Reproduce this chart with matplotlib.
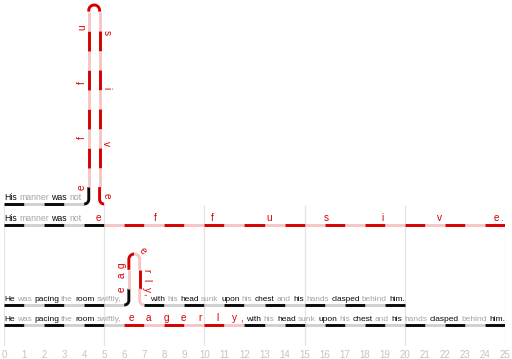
import numpy as np
import matplotlib
matplotlib.use("Agg")
import matplotlib.pyplot as plt

# sentence 1
s1_words = ["His", "manner", "was", "not"]
s1_letters = list("effusive")
s1_letter_s = [4.7, 7.54, 10.38, 13.22, 16.06, 18.9, 21.74, 24.58]
s1_loop_s = [5.0, 7.54, 10.38, 13.22, 16.06, 18.9, 21.74, 24.45]
s1_end = ".", 24.85

# sentence 2
s2_head = ["He", "was", "pacing", "the", "room", "swiftly,"]
s2_tail = ["with", "his", "head", "sunk", "upon", "his", "chest", "and",
           "his", "hands", "clasped", "behind", "him."]
s2_letters = list("eagerly")
s2_letter_s = [6.37, 7.22, 8.08, 8.93, 9.79, 10.64, 11.5]
s2_loop_s = [6.96, 7.71, 8.26, 9.23, 10.03, 10.53, 11.03]
s2_end = ",", 11.86
s2_loop_end = ",", 11.3

n_units = 25
ticks = list(range(0, 26))

PX = 501 / 25.0
BLACK, GRAY = "#0a0a0a", "#d0d0d0"
RED, PINK = "#d40000", "#f6c6c6"
WORDGRAY = "#a4a4a4"
R1, R2 = 0.23, 0.27
FONT = "Liberation Sans"

fig = plt.figure(figsize=(5.12, 3.59), dpi=100)
ax = fig.add_axes([4 / 512, 13 / 359, 501 / 512, 346 / 359])
ax.set_xlim(0, 25)
ax.set_ylim(346 / PX, 0)
renderer = fig.canvas.get_renderer()


def point(s, fold):
    # position (x, height) and tangent angle at arc length s
    if fold is None or s <= fold[0]:
        return s, 0.0, 0.0
    a, L, H = fold
    if s >= a + L:
        return s - L + 2 * (R1 + R2), 0.0, 0.0
    q1 = np.pi / 2 * R1
    v = H - R1 - R2
    q2 = np.pi * R2
    P = 2 * q1 + 2 * v + q2
    u = (s - a) * P / L
    if u < q1:
        p = u / R1
        return a + R1 * np.sin(p), R1 - R1 * np.cos(p), p
    if u < q1 + v:
        return a + R1, R1 + (u - q1), np.pi / 2
    if u < q1 + v + q2:
        p = (u - q1 - v) / R2
        cx, ch = a + R1 + R2, R1 + v
        return cx - R2 * np.cos(p), ch + R2 * np.sin(p), np.pi / 2 - p
    if u < q1 + 2 * v + q2:
        w = u - q1 - v - q2
        return a + R1 + 2 * R2, R1 + v - w, -np.pi / 2
    p = min((u - q1 - 2 * v - q2) / R1, np.pi / 2)
    cx = a + 2 * R1 + 2 * R2
    return cx - R1 * np.cos(p), R1 - R1 * np.sin(p), p - np.pi / 2


def draw_line(y0, fold, hl):
    for k in range(n_units):
        ss = np.linspace(k, k + 1, 40)
        pts = [point(s, fold) for s in ss]
        xs = [p[0] for p in pts]
        ys = [y0 - p[1] for p in pts]
        if hl[0] <= k < hl[1]:
            c = RED if k % 2 == 0 else PINK
        else:
            c = BLACK if k % 2 == 0 else GRAY
        ax.plot(xs, ys, color=c, lw=2.1, solid_capstyle="butt", zorder=2)


def draw_letters(y0, fold, letters, spos):
    for ch, s in zip(letters, spos):
        x, h, th = point(s, fold)
        off = 0.34
        lx = x - off * np.sin(th)
        lh = h + off * np.cos(th)
        ax.text(lx, y0 - lh, ch, color=RED, fontsize=7.2, ha="center", va="center",
                rotation=np.degrees(th), rotation_mode="anchor", family=FONT, zorder=3)


def fit_size(words, x0, x1):
    # font size at which the phrase fills its span
    t = ax.text(0, 0, " ".join(words), fontsize=10, family=FONT)
    w = t.get_window_extent(renderer).width / PX
    t.remove()
    return min(10 * (x1 - x0) / w, 6.9)


def put_words(words, x0, x1, y0):
    fs = fit_size(words, x0, x1)
    texts = [ax.text(x0, y0 - 0.18, w, fontsize=fs, family=FONT,
                     color=BLACK if i % 2 == 0 else WORDGRAY, va="baseline", zorder=3)
             for i, w in enumerate(words)]
    widths = [t.get_window_extent(renderer).width / PX for t in texts]
    gap = (x1 - x0 - sum(widths)) / (len(words) - 1)
    x = x0
    for t, w in zip(texts, widths):
        t.set_x(x)
        x += w + gap


yA, yB, yC, yD = 204 / PX, 225 / PX, 305 / PX, 325 / PX
foldA = (4, 21, 199 / PX)
foldC = (6, 6, 51 / PX)

# gridlines
ax.vlines(range(0, 26, 5), 205 / PX, 346 / PX, color="#e4e4e4", lw=0.9, zorder=1)

# row A: folded "effusive"
draw_line(yA, foldA, (5, 25))
put_words(s1_words, 0, 3.85, yA)
draw_letters(yA, foldA, s1_letters, s1_loop_s)

# row B: flat
draw_line(yB, None, (5, 25))
put_words(s1_words, 0, 3.85, yB)
draw_letters(yB, None, s1_letters + [s1_end[0]], s1_letter_s + [s1_end[1]])

# row C: folded "eagerly"
draw_line(yC, foldC, (7, 12))
put_words(s2_head, 0, 5.87, yC)
put_words(s2_tail, 7.3, 20.0, yC)
draw_letters(yC, foldC, s2_letters + [s2_loop_end[0]], s2_loop_s + [s2_loop_end[1]])

# row D: flat
draw_line(yD, None, (6, 12))
put_words(s2_head, 0, 5.87, yD)
put_words(s2_tail, 12.1, 25.0, yD)
draw_letters(yD, None, s2_letters + [s2_end[0]], s2_letter_s + [s2_end[1]])

ax.set_xticks(ticks)
ax.set_xticklabels([str(t) for t in ticks], family=FONT)
ax.set_yticks([])
ax.tick_params(axis="x", length=0, labelsize=7, labelcolor="#c4c4c4", pad=3)
for sp in ax.spines.values():
    sp.set_visible(False)

fig.savefig("out.png", dpi=100)
